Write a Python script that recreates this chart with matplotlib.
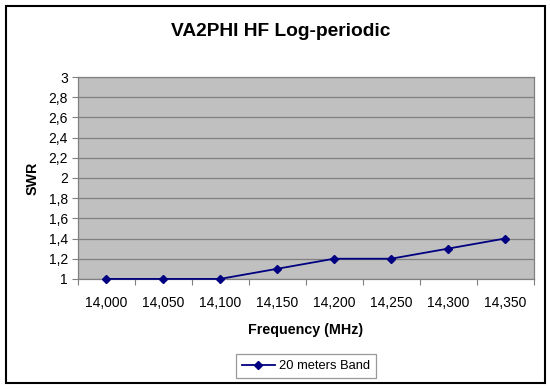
import numpy as np
import matplotlib
matplotlib.use('Agg')
import matplotlib.pyplot as plt
from matplotlib.patches import Rectangle

plt.rcParams['font.family'] = ['Liberation Sans', 'DejaVu Sans']

freqs = ['14,000', '14,050', '14,100', '14,150', '14,200', '14,250', '14,300', '14,350']
swr = [1.0, 1.0, 1.0, 1.1, 1.2, 1.2, 1.3, 1.4]
yticks = [1.0, 1.2, 1.4, 1.6, 1.8, 2.0, 2.2, 2.4, 2.6, 2.8, 3.0]

fig = plt.figure(figsize=(5.5, 3.89), dpi=100)
ax = fig.add_axes([0.141, 0.283, 0.829, 0.519])
ax.set_facecolor('#c0c0c0')

x = np.arange(len(freqs))
ax.plot(x, swr, color='#000080', lw=1.3, marker='D', ms=4.5,
        label='20 meters Band', clip_on=False, zorder=3)

ax.set_xlim(-0.5, len(freqs) - 0.5)
ax.set_ylim(1, 3)
ax.set_yticks(yticks)
ax.set_yticklabels([f'{v:g}'.replace('.', ',') for v in yticks])
ax.yaxis.grid(True, color='#808080', lw=0.9)
ax.set_axisbelow(True)

# ticks on category boundaries, labels at centres
ax.set_xticks(np.arange(-0.5, len(freqs)))
ax.set_xticklabels([])
ax.set_xticks(x, minor=True)
ax.set_xticklabels(freqs, minor=True)
ax.tick_params(axis='x', which='major', length=4, color='#808080')
ax.tick_params(axis='x', which='minor', length=0, pad=12, labelsize=10)
ax.tick_params(axis='y', length=4, color='#808080', labelsize=10, pad=3)

for s in ax.spines.values():
    s.set_color('#808080')
    s.set_linewidth(0.9)

ax.set_xlabel('Frequency (MHz)', fontsize=10.3, fontweight='bold', labelpad=10)
ax.set_ylabel('SWR', fontsize=10.3, fontweight='bold', labelpad=6)
fig.text(0.51, 0.92, 'VA2PHI HF Log-periodic', ha='center', va='center',
         fontsize=13.8, fontweight='bold')

leg = fig.legend(loc='center', bbox_to_anchor=(0.556, 0.059), fontsize=9.3,
                 frameon=True, fancybox=False, edgecolor='#808080',
                 handlelength=2.6, handletextpad=0.3, borderpad=0.45)
leg.get_frame().set_linewidth(0.9)

fig.patches.append(Rectangle((0.011, 0.015), 0.98, 0.97, transform=fig.transFigure,
                             fill=False, edgecolor='black', lw=1.5))

fig.savefig('out.png', dpi=100)
